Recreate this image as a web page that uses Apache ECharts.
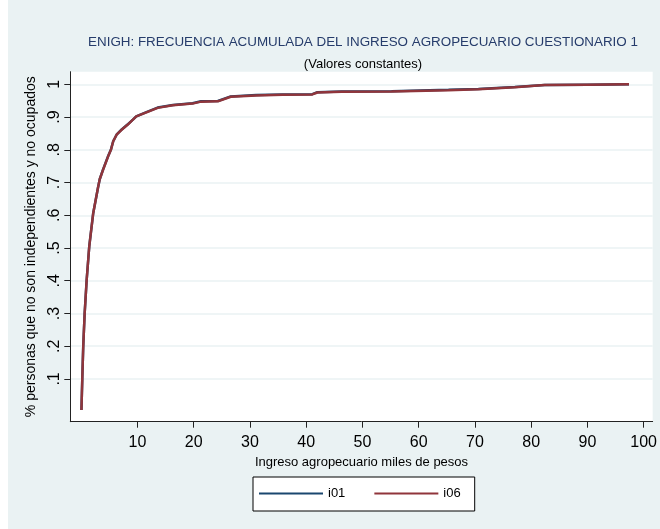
<!DOCTYPE html>
<html>
<head>
<meta charset="utf-8">
<script src="https://cdn.jsdelivr.net/npm/echarts@6/dist/echarts.min.js"></script>
<style>html,body{margin:0;padding:0;background:#eaf2f3;}#c{width:660px;height:529px;}</style>
</head>
<body>
<div id="c"></div>
<script>
// Data
var incomeX = [0.05, 0.2, 0.37, 0.62, 0.97, 1.44, 2.15, 3.0, 3.3, 3.9, 4.8, 5.3, 5.7, 6.3, 7.2, 8.3, 9.2, 9.8, 11.6, 13.6, 16.3, 19.8, 21.3, 24.3, 26.6, 31.1, 35.8, 41.1, 42.0, 46.3, 55.2, 65.3, 70.6, 77.1, 82.4, 90.0, 97.4];
var cumI01 = [0.005, 0.1, 0.2, 0.3, 0.4, 0.505, 0.607, 0.685, 0.71, 0.74, 0.781, 0.801, 0.826, 0.846, 0.862, 0.878, 0.892, 0.902, 0.915, 0.929, 0.937, 0.942, 0.948, 0.949, 0.963, 0.967, 0.969, 0.970, 0.976, 0.978, 0.979, 0.983, 0.986, 0.992, 0.998, 0.999, 1.0];
var cumI06 = [0.005, 0.1, 0.2, 0.3, 0.4, 0.505, 0.607, 0.685, 0.71, 0.739, 0.78, 0.80, 0.826, 0.846, 0.861, 0.877, 0.892, 0.902, 0.914, 0.928, 0.936, 0.941, 0.947, 0.948, 0.962, 0.966, 0.968, 0.969, 0.975, 0.977, 0.978, 0.982, 0.985, 0.991, 0.998, 0.999, 1.0];
var xTicks = [10, 20, 30, 40, 50, 60, 70, 80, 90, 100];
var yTicks = [0.1, 0.2, 0.3, 0.4, 0.5, 0.6, 0.7, 0.8, 0.9, 1];
var yTickLabels = ['.1', '.2', '.3', '.4', '.5', '.6', '.7', '.8', '.9', '1'];

function pairs(xs, ys) { return xs.map(function (x, i) { return [x, ys[i]]; }); }

var FONT = '"Liberation Sans", Arial, sans-serif';
var chart = echarts.init(document.getElementById('c'), null, {renderer: 'canvas'});
chart.setOption({
  backgroundColor: '#eaf2f3',
  animation: false,
  graphic: [{type: 'rect', shape: {x: 0, y: 0, width: 8, height: 529}, style: {fill: '#ffffff'}, silent: true, z: -1}],
  title: [{
    text: 'ENIGH: FRECUENCIA ACUMULADA DEL INGRESO AGROPECUARIO CUESTIONARIO 1',
    left: 358, top: 31, textAlign: 'center',
    textStyle: {fontFamily: FONT, fontSize: 13.4, fontWeight: 'normal', color: '#263c6b'}
  }, {
    text: '(Valores constantes)',
    left: 358, top: 53, textAlign: 'center',
    textStyle: {fontFamily: FONT, fontSize: 13, fontWeight: 'normal', color: '#000'}
  }],
  legend: {
    left: 253, top: 477,
    padding: [9, 14, 10, 6],
    icon: 'rect',
    itemWidth: 64, itemHeight: 2, itemGap: 29,
    backgroundColor: '#ffffff', borderColor: '#000', borderWidth: 1,
    textStyle: {fontFamily: FONT, fontSize: 13, color: '#000', lineHeight: 15},
    data: ['i01', 'i06']
  },
  grid: {
    left: 70.3, right: 5, top: 71.7, bottom: 107.3,
    show: true, backgroundColor: '#ffffff', borderWidth: 0, containLabel: false
  },
  xAxis: {
    type: 'value', min: -1.93, max: 101.6,
    name: 'Ingreso agropecuario miles de pesos',
    nameLocation: 'middle', nameGap: 32,
    nameTextStyle: {fontFamily: FONT, fontSize: 13, color: '#000'},
    axisLine: {onZero: false, lineStyle: {color: '#222', width: 1}},
    axisTick: {show: true, length: 6, customValues: xTicks, lineStyle: {color: '#222'}},
    axisLabel: {customValues: xTicks, fontFamily: FONT, fontSize: 16, color: '#000', margin: 13},
    splitLine: {show: false}
  },
  yAxis: {
    type: 'value', min: -0.0306, max: 1.0385,
    name: '% personas que no son independientes y no ocupados',
    nameLocation: 'middle', nameGap: 27, nameRotate: 90,
    nameTextStyle: {fontFamily: FONT, fontSize: 14, color: '#000'},
    axisLine: {show: true, onZero: false, lineStyle: {color: '#222', width: 1}},
    axisTick: {show: true, length: 6, customValues: yTicks, lineStyle: {color: '#222'}},
    axisLabel: {
      customValues: yTicks, rotate: 90, fontFamily: FONT, fontSize: 16, color: '#000', margin: 8,
      formatter: function (v) { var i = yTicks.findIndex(function (t) { return Math.abs(t - v) < 1e-6; }); return i >= 0 ? yTickLabels[i] : ''; }
    },
    splitLine: {show: true, lineStyle: {color: '#eaf2f3', width: 1.5}}
  },
  series: [{
    name: 'i01', type: 'line', showSymbol: false, symbol: 'none',
    data: pairs(incomeX, cumI01),
    lineStyle: {color: '#1a476f', width: 2.5}, itemStyle: {color: '#1a476f'}
  }, {
    name: 'i06', type: 'line', showSymbol: false, symbol: 'none',
    data: pairs(incomeX, cumI06),
    lineStyle: {color: '#90353b', width: 2.5}, itemStyle: {color: '#90353b'}
  }]
});
</script>
</body>
</html>
